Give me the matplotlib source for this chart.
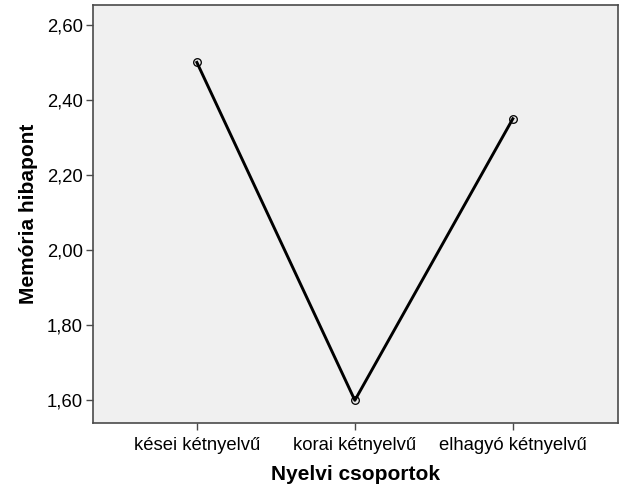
import matplotlib
matplotlib.use("Agg")
import matplotlib.pyplot as plt
from matplotlib.ticker import FuncFormatter

plt.rcParams["font.family"] = ["Liberation Sans", "DejaVu Sans"]

# group means
groups = ["kései kétnyelvű", "korai kétnyelvű", "elhagyó kétnyelvű"]
means = [2.50, 1.60, 2.35]
y_ticks = [1.60, 1.80, 2.00, 2.20, 2.40, 2.60]

fig = plt.figure(figsize=(6.26, 5.01), dpi=100)
ax = fig.add_axes([0.148, 0.156, 0.839, 0.834])
ax.set_facecolor("#f0f0f0")

x = list(range(len(groups)))
# markers under the line, like the SPSS output
ax.plot(x, means, linestyle="none", marker="o", markersize=5.5,
        markerfacecolor="#e8e8e8", markeredgecolor="black",
        markeredgewidth=0.9, zorder=2)
ax.plot(x, means, color="black", linewidth=2.1, zorder=3)

ax.set_xlim(-0.66, 2.665)
ax.set_ylim(1.54, 2.653)
ax.set_xticks(x)
ax.set_xticklabels(groups)
ax.set_yticks(y_ticks)
ax.yaxis.set_major_formatter(FuncFormatter(lambda v, p: f"{v:.2f}".replace(".", ",")))

for s in ax.spines.values():
    s.set_color("#4a4a4a")
    s.set_linewidth(1.2)
ax.tick_params(axis="both", colors="#4a4a4a", labelcolor="black",
               length=5, width=1.0, labelsize=13.3)
ax.tick_params(axis="x", pad=5)
ax.tick_params(axis="y", pad=2)

ax.set_xlabel("Nyelvi csoportok", fontsize=15, fontweight="bold", labelpad=8)
ax.set_ylabel("Memória hibapont", fontsize=15, fontweight="bold", labelpad=6)

fig.savefig("out.png", dpi=100)
